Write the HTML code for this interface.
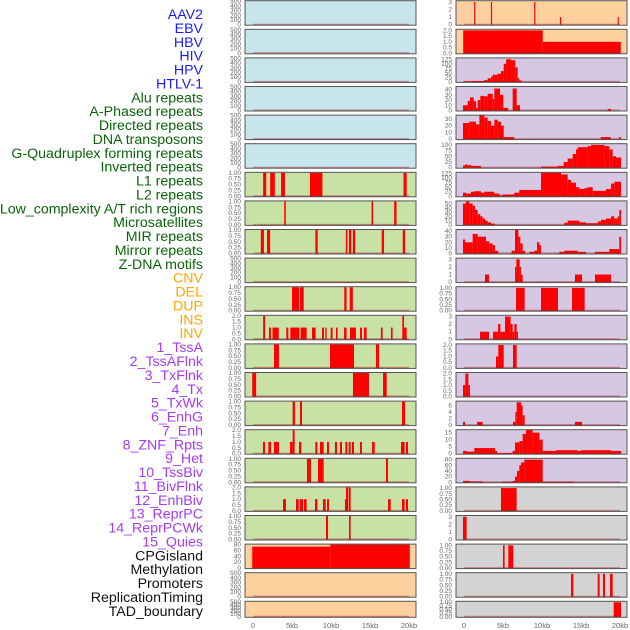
<!DOCTYPE html>
<html><head><meta charset="utf-8"><style>
html,body{margin:0;padding:0;background:#fff;width:630px;height:630px;overflow:hidden}
svg{display:block;font-family:"Liberation Sans",sans-serif}
</style></head><body>
<svg id="c" width="630" height="630" xmlns="http://www.w3.org/2000/svg"></svg>
<script>
const labels=["AAV2","EBV","HBV","HIV","HPV","HTLV-1","Alu repeats","A-Phased repeats","Directed repeats","DNA transposons","G-Quadruplex forming repeats","Inverted repeats","L1 repeats","L2 repeats","Low_complexity A/T rich regions","Microsatellites","MIR repeats","Mirror repeats","Z-DNA motifs","CNV","DEL","DUP","INS","INV","1_TssA","2_TssAFlnk","3_TxFlnk","4_Tx","5_TxWk","6_EnhG","7_Enh","8_ZNF_Rpts","9_Het","10_TssBiv","11_BivFlnk","12_EnhBiv","13_ReprPC","14_ReprPCWk","15_Quies","CPGisland","Methylation","Promoters","ReplicationTiming","TAD_boundary"];
const labelGroups=[6,13,5,15,5];
const groupColors=["#1a1aff","#0a640a","#ffa500","#a43cf5","#111111"];
const xTicks=[0,5,10,15,20];
const xTickLabels=["0","5kb","10kb","15kb","20kb"];
const T500=[0,100,200,300,400,500],T1=[0,0.25,0.5,0.75,1],T2=[0,0.5,1,1.5,2],T3=[0,1,2,3];
const fmt1=v=>v.toFixed(2),fmt2=v=>v.toFixed(1),fmt0=v=>String(v);
// left column: [bg, ymax, ticks, segments]
const leftSeg=[
[],[],[],[],[],[],
[[1.3,1.7,1],[2.2,2.8,1],[3.6,4.1,1],[7.3,8.9,1],[19.3,19.7,1]],
[[4.0,4.2,1],[15.2,15.4,1],[18.1,18.4,1]],
[[1.0,1.4,1],[1.8,2.2,1],[8.0,8.3,1],[11.9,12.1,1],[12.3,12.6,1],[12.8,13.1,1],[16.5,16.8,1],[19.2,19.5,1]],
[],
[[5.0,5.9,1],[6.0,6.5,1],[11.7,12.0,1],[12.4,12.8,1]],
[[1.3,1.55,2],[2.05,2.3,1],[2.5,3.3,1],[4.27,4.53,1],[4.79,5.94,1],[6.11,6.88,1],[7.56,8.03,1],[8.85,9.1,1],[9.27,9.44,1],[9.96,10.2,1],[10.64,10.85,1],[11.67,12.0,1],[12.43,13.2,1],[13.72,13.97,1],[14.23,14.57,1],[16.4,16.62,1],[17.69,17.9,1],[19.14,19.36,2],[19.36,19.7,1]],
[[2.69,3.33,1],[9.87,12.95,1],[15.76,16.15,1]],
[[-0.1,0.4,1],[12.82,14.87,1],[16.67,17.14,1]],
[[5.08,5.38,1],[6.02,6.28,1],[19.1,19.49,1]],
[[1.28,1.54,1],[1.97,2.31,1],[2.69,3.33,1],[4.74,5.09,1],[5.09,5.34,2],[5.9,6.2,1],[7.99,8.25,1],[8.59,9.06,1],[9.49,9.74,1],[10.51,10.77,1],[11.15,11.41,1],[11.84,12.09,1],[12.26,12.52,1],[12.69,12.95,1],[13.72,13.97,1],[15.26,15.6,1],[18.97,19.44,1],[19.61,19.87,1]],
[[6.92,7.43,1],[8.33,9.06,1],[17.05,17.3,1]],
[[3.85,4.23,1],[5.51,5.86,1],[5.98,6.41,1],[6.54,6.88,1],[7.95,8.25,1],[8.97,9.32,1],[9.49,9.74,1],[11.79,11.92,1],[11.92,12.18,2],[12.26,12.52,2],[17.31,17.65,1],[19.1,19.44,1],[19.61,19.87,1]],
[[9.36,9.62,1],[12.31,12.52,1]],
[[-0.1,9.9,73],[9.9,20.1,80]],
[],[]];
const leftBg=["b","b","b","b","b","b","g","g","g","g","g","g","g","g","g","g","g","g","g","o","o","o"];
const leftMax=[500,500,500,500,500,500,1,1,1,500,1,2,1,1,1,2,1,2,1,80,500,500];
const leftTicks=[T500,T500,T500,T500,T500,T500,T1,T1,T1,T500,T1,T2,T1,T1,T1,T2,T1,T2,T1,[0,20,40,60,80],T500,T500];
const rightSeg=[
[[1.3,1.45,3],[3.45,3.6,3],[9.0,9.15,3],[12.3,12.45,1],[19.7,19.85,1]],
[[-0.1,10.1,2],[10.1,20.1,1]],
[[-0.13,0.9,3],[0.9,2.6,5],[2.6,3.03,10],[3.03,3.46,20],[3.46,3.68,30],[3.68,4.32,40],[4.32,4.74,45],[4.74,5.09,60],[5.09,5.4,100],[5.4,6.03,125],[6.03,6.58,120],[6.58,6.88,80],[6.88,7.09,20],[7.09,7.4,8],[7.4,7.52,3]],
[[-0.13,0.47,10],[0.47,0.77,18],[0.77,1.24,25],[1.24,1.54,18],[1.54,1.75,5],[1.75,2.09,20],[2.09,2.61,28],[2.61,3.03,27],[3.03,3.68,32],[3.68,3.89,22],[3.89,4.62,42],[4.62,5.04,30],[5.04,5.68,5],[6.24,6.75,42],[6.75,7.18,10],[18.42,18.85,3]],
[[-0.13,0.68,24],[0.68,1.54,26],[1.54,1.97,22],[1.97,2.61,36],[2.61,3.03,32],[3.03,3.46,27],[3.46,3.89,20],[3.89,4.32,29],[4.32,4.74,26],[4.74,5.09,20],[5.09,6.45,3],[17.52,18.8,3],[19.9,20.13,3]],
[[-0.13,0.13,10],[0.13,0.47,14],[0.47,0.9,12],[0.9,2.18,8],[9.87,12.01,5],[12.01,12.78,8],[12.78,13.29,25],[13.29,13.93,40],[13.93,14.36,60],[14.36,14.57,80],[14.57,15.85,90],[15.85,16.28,95],[16.28,17.99,100],[17.99,18.63,95],[18.63,19.06,80],[19.06,19.49,50],[19.49,20.13,45]],
[[-0.13,0.26,20],[0.26,0.9,15],[0.9,1.32,25],[1.32,2.18,28],[2.18,2.61,20],[2.61,3.89,25],[3.89,4.53,15],[4.53,4.96,5],[4.96,6.45,10],[6.45,7.09,20],[7.09,9.87,35],[9.87,12.44,130],[12.44,13.29,120],[13.29,13.72,90],[13.72,14.36,75],[14.36,14.79,50],[14.79,15.43,40],[15.43,15.85,45],[15.85,16.5,50],[16.5,18.2,30],[18.2,18.85,40],[18.85,19.27,70],[19.27,20.13,80]],
[[-0.13,0.26,50],[0.26,0.68,55],[0.68,1.11,50],[1.11,1.41,45],[1.41,1.75,35],[1.75,2.09,25],[2.09,2.39,20],[2.39,2.69,15],[2.69,3.03,10],[3.03,3.46,6],[3.46,3.97,3],[12.86,13.29,5],[13.29,14.79,10],[14.79,15.64,6],[15.64,17.14,4],[17.14,17.56,8],[17.56,18.2,12],[18.2,18.85,15],[18.85,19.27,20],[19.27,19.7,15],[19.7,19.91,20],[19.91,20.13,35]],
[[-0.13,0.13,25],[0.13,1.11,20],[1.11,1.75,35],[1.75,2.82,30],[2.82,3.25,22],[3.25,3.68,18],[3.68,3.97,15],[3.97,4.4,5],[6.11,6.54,5],[6.54,6.97,42],[6.97,7.22,30],[7.22,7.52,18],[7.52,7.82,5],[8.38,9.02,3],[9.02,9.36,5],[9.36,9.66,20],[9.66,9.87,15],[12.22,12.86,3],[12.86,14.57,5],[14.57,15.64,3],[16.79,18.63,3],[18.63,19.91,8],[19.91,20.13,30]],
[[2.69,3.2,1],[6.54,6.71,2],[6.71,7.14,3],[7.14,7.31,2],[7.31,7.52,1],[14.23,15.13,1],[16.79,18.85,1]],
[[6.67,7.78,1],[9.87,12.05,1],[13.85,15.47,1]],
[[2.05,3.2,1],[3.72,4.36,1],[4.36,4.66,2],[4.66,5.26,1],[5.26,5.98,3],[5.98,6.24,2],[6.24,6.45,1],[6.45,6.75,2],[6.75,6.92,1]],
[[4.1,4.4,1],[4.4,5.09,2],[6.28,6.75,2]],
[[-0.13,0.17,1],[0.17,0.56,2],[0.56,0.77,1]],
[[-0.13,0.13,1],[1.67,2.39,1],[6.28,6.58,1],[6.58,6.75,4],[6.75,7.31,7],[7.31,7.52,6],[7.52,7.78,3],[14.23,15.13,1]],
[[-0.13,0.38,2],[0.38,1.32,1.5],[1.32,3.97,4],[3.97,4.23,2],[4.23,6.24,0.5],[6.24,6.54,2],[6.54,7.09,8],[7.09,7.52,9],[7.52,7.95,14],[7.95,8.8,17],[8.8,9.66,15],[9.66,10.09,10],[10.09,11.79,2],[11.79,14.57,2.5],[14.57,15.0,2],[15.0,18.85,2.5],[18.85,20.13,2]],
[[-0.13,0.73,5],[0.73,2.39,3],[4.87,6.24,2],[6.24,6.54,5],[6.54,6.79,20],[6.79,7.09,40],[7.09,7.31,60],[7.31,7.74,70],[7.74,10.09,80],[10.09,14.06,2]],
[[4.74,6.75,1]],
[[-0.13,0.34,3]],
[[5.0,5.21,1],[5.68,6.32,1]],
[[13.72,14.02,1],[17.14,17.39,1],[17.82,18.08,1],[18.72,19.06,1]],
[[19.19,20.13,1]]];
const rightBg=["o","o","p","p","p","p","p","p","p","p","p","p","p","p","p","p","p","y","y","y","y","y"];
const rightMax=[3.1,2.05,130,45,35,103,129,55,42,3.1,1.03,3.1,2.05,2.05,7.2,16.7,83,1.03,3.1,1.03,1.03,1.03];
const rightTicks=[T3,T2,[0,25,50,75,100,125],[0,10,20,30,40],[0,10,20,30],[0,25,50,75,100],[0,25,50,75,100,125],[0,10,20,30,40,50],[0,10,20,30,40],T3,T1,T3,T2,T2,[0,2,4,6],[0,5,10,15],[0,20,40,60,80],T1,T3,T1,T1,T1];
const bgColors={b:"#c8e4ec",g:"#c8e1a5",o:"#fed09e",p:"#d6c7e3",y:"#d3d3d3"};

const NS="http://www.w3.org/2000/svg";
const svg=document.getElementById("c");
function mk(tag,attrs,parent){const e=document.createElementNS(NS,tag);for(const k in attrs)e.setAttribute(k,attrs[k]);(parent||svg).appendChild(e);return e;}
// labels
let gi=0,cnt=0;
labels.forEach((t,i)=>{
  if(cnt>=labelGroups[gi]){gi++;cnt=0;}cnt++;
  const e=mk("text",{x:203,y:14+i*13.88+5,"text-anchor":"end","font-size":"14.2",fill:groupColors[gi]});
  e.textContent=t;
  
  
});
function tickFmt(ticks){const step=ticks[1]-ticks[0];if(step===0.25)return fmt1;if(step===0.5)return fmt2;return fmt0;}
function drawCol(x0,bgs,maxs,ticksArr,segs,col){
  const W=171,kx=v=>x0+8+v*7.8;
  for(let i=0;i<22;i++){
    const top=0.7+i*28.6,h=(i===21)?16:24.5,bot=top+h;
    const ymax=maxs[i];const yy=v=>bot-0.5-v/ymax*(h-1);
    const g=mk("g",{});
    
    
    mk("rect",{x:x0,y:top,width:W,height:h,fill:bgColors[bgs[i]]},g);
    segs[i].forEach(s=>{
      const r=mk("rect",{x:kx(s[0]),y:yy(s[2]),width:Math.max(kx(s[1])-kx(s[0]),1),height:bot-yy(s[2]),fill:"#ff0000"},g);
      
      
    });
    mk("line",{x1:kx(0),x2:kx(20),y1:bot-0.8,y2:bot-0.8,stroke:"rgba(170,20,20,0.45)","stroke-width":1.4},g);
    mk("rect",{x:x0,y:top,width:W,height:h,fill:"none",stroke:"#555","stroke-width":1},g);
    const f=tickFmt(ticksArr[i]);
    ticksArr[i].forEach(v=>{
      const t=mk("text",{x:x0-4,y:yy(v)+2,"text-anchor":"end","font-size":"6.5",fill:"#666"},g);
      t.textContent=f(v);
      
      
    });
  }
  xTicks.forEach((v,j)=>{
    const t=mk("text",{x:kx(v),y:628,"text-anchor":"middle","font-size":"7.5",fill:"#666"});
    t.textContent=xTickLabels[j];
    
    
  });
}
drawCol(245,leftBg,leftMax,leftTicks,leftSeg,"left");
drawCol(456,rightBg,rightMax,rightTicks,rightSeg,"right");
</script>
</body></html>
